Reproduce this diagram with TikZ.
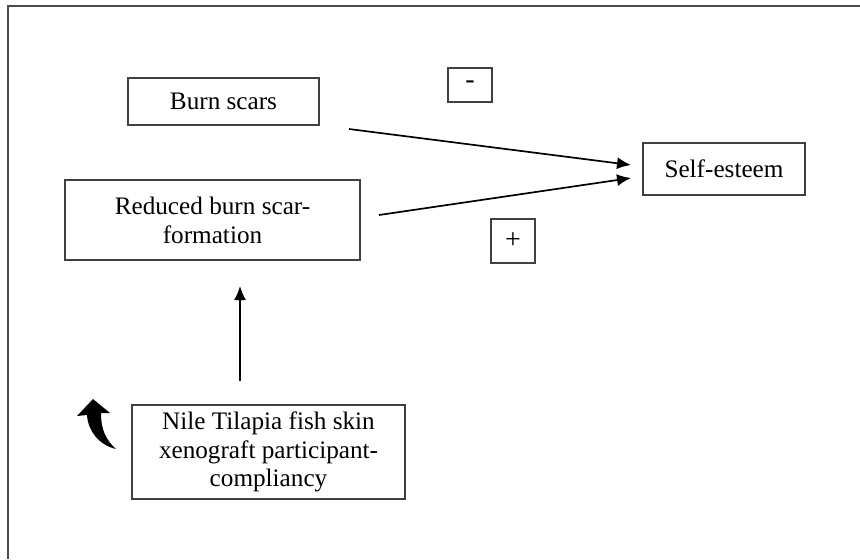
\documentclass[tikz,border=0pt]{standalone}
\usepackage{fontspec}
\setmainfont{Liberation Serif}
\usetikzlibrary{arrows.meta,positioning}

\begin{document}
\begin{tikzpicture}[
    x=0.5pt, y=-0.5pt,
    font=\fontsize{12.6}{14.4}\selectfont,
    >={Latex[length=7pt,width=6pt]},
    line width=0.85pt,
    factorbox/.style={draw=black!75, line width=1pt, inner sep=0pt, align=center},
    signbox/.style={draw=black!75, line width=1pt, inner sep=0pt, font=\fontsize{14}{15}\selectfont}
]
\useasboundingbox (0,0) rectangle (860,559);
\draw[black!70, line width=1pt] (860,6) -- (8,6) -- (8,559);

\node[factorbox, minimum width=95.5pt, minimum height=23.5pt] (burn) at (223.5,101.5) {Burn scars};
\node[factorbox, minimum width=147.5pt, minimum height=40pt] (reduced) at (212.5,220) {Reduced burn scar-\\formation};
\node[factorbox, minimum width=81pt, minimum height=26pt] (esteem) at (724,169) {Self-esteem};
\node[factorbox, minimum width=136.5pt, minimum height=47pt] (nile) at (268.5,452) {Nile Tilapia fish skin\\xenograft participant-\\compliancy};

\node[signbox, minimum width=22pt, minimum height=17pt] (minus) at (470,85) {-};
\node[signbox, minimum width=22pt, minimum height=22pt] (plus) at (513,241) {+};

% links into self-esteem
\draw[->] ([shift={(29,3)}]burn.south east) -- ([shift={(-11,-4)}]esteem.west);
\draw[->] ([shift={(18,-5)}]reduced.east) -- ([shift={(-11,9)}]esteem.west);
\draw[->] ([shift={(-28.5,-23)}]nile.north) -- ([shift={(27.5,25)}]reduced.south);

% curved arrow beside the bottom box
\fill (93,399) -- (110,413) -- (101,413)
    .. controls (101,430) and (106,440) .. (116,449)
    .. controls (99,445) and (88,431) .. (87,415) -- (77,416) -- cycle;
\end{tikzpicture}
\end{document}
